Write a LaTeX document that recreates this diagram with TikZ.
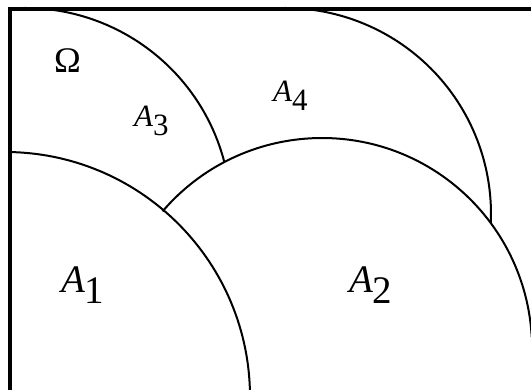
\documentclass[tikz,border=0pt]{standalone}
\usepackage{fontspec}
\setmainfont{Liberation Serif}
\newcommand{\lowsub}[1]{\raisebox{-0.28em}{#1}}
\begin{document}
\begin{tikzpicture}[x=1pt, y=1pt, line width=2pt,
  frame/.style={line width=4pt, line join=miter},
  biglbl/.style={font=\fontsize{39}{39}\selectfont, inner sep=0pt, anchor=base west},
  smalllbl/.style={font=\fontsize{31}{31}\selectfont, inner sep=0pt, anchor=base west}]
  \useasboundingbox (0,0) rectangle (531,390);
  \clip (0,0) rectangle (531,390);
  % centres of the arcs
  \coordinate (c1) at (5,-7);
  \coordinate (c2) at (322,42);
  \coordinate (c3) at (25,176);
  \coordinate (c4) at (285,176);
  \draw (c1) ++(88.8:245pt) arc[start angle=88.8, end angle=0, radius=245pt];
  \draw (c2) ++(139.4:210pt) arc[start angle=139.4, end angle=3, radius=210pt];
  \draw (c3) ++(90:206pt) arc[start angle=90, end angle=14.6, radius=206pt];
  \draw (c4) ++(90:206pt) arc[start angle=90, end angle=-2.5, radius=206pt];
  \draw[frame] (10.3,0) -- (10.3,381.2) -- (531,381.2);
  % labels
  \node[font=\fontsize{36}{36}\selectfont, inner sep=0pt, anchor=base west] (omega) at (53,317) {Ω};
  \node[smalllbl] (a3) at (133,263) {\textit{A}\lowsub{3}};
  \node[smalllbl] (a4) at (272,288) {\textit{A}\lowsub{4}};
  \node[biglbl] (a1) at (60,97) {\textit{A}\lowsub{1}};
  \node[biglbl] (a2) at (348,97) {\textit{A}\lowsub{2}};
\end{tikzpicture}
\end{document}
